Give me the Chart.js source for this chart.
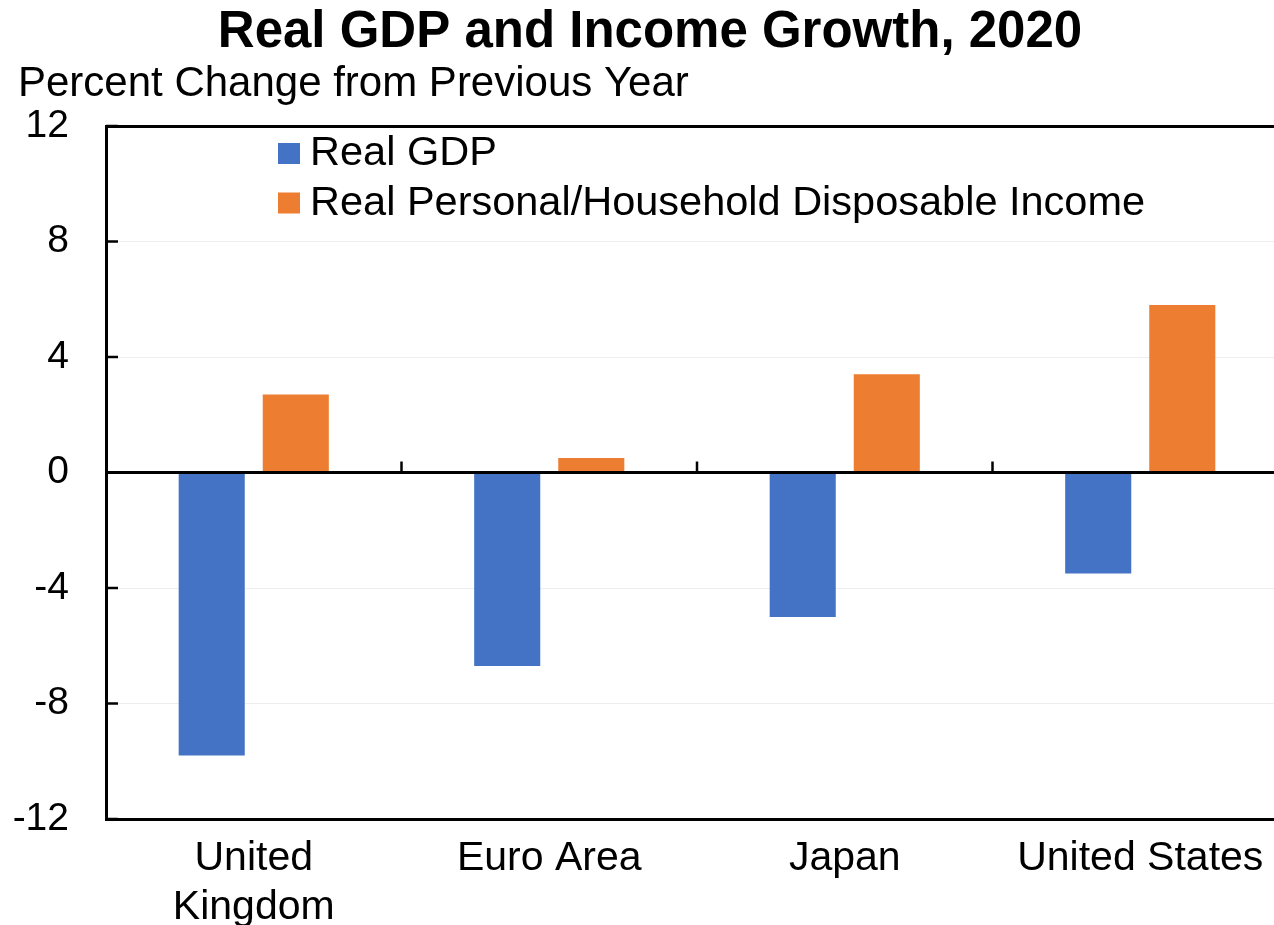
<!DOCTYPE html>
<html>
<head>
<meta charset="utf-8">
<script src="https://cdn.jsdelivr.net/npm/chart.js@4.4.0/dist/chart.umd.min.js"></script>
<style>
  html, body { margin: 0; padding: 0; background: #fff; overflow: hidden; }
  #wrap { width: 1288px; height: 925px; }
</style>
</head>
<body>
<div id="wrap"><canvas id="gdpChart"></canvas></div>
<script>
const countries = [['United', 'Kingdom'], 'Euro Area', 'Japan', 'United States'];
const realGdp = [-9.8, -6.7, -5.0, -3.5];
const realIncome = [2.7, 0.5, 3.4, 5.8];
const yTicks = [-12, -8, -4, 0, 4, 8, 12];

const chartTitle = 'Real GDP and Income Growth, 2020';
const unitLabel = 'Percent Change from Previous Year';

const FONT = '"Liberation Sans", Arial, sans-serif';
Chart.defaults.font.family = FONT;
Chart.defaults.color = '#000';

// headings, zero line, separators, inner ticks and the in-plot legend
const chartMarks = {
    id: 'chartMarks',
    afterDatasetsDraw(chart) {
        const { ctx, chartArea, scales: { x, y } } = chart;
        ctx.save();
        ctx.strokeStyle = '#000';

        const y0 = y.getPixelForValue(0);
        ctx.lineWidth = 3;
        ctx.beginPath();
        ctx.moveTo(chartArea.left, y0);
        ctx.lineTo(chartArea.right, y0);
        ctx.stroke();

        ctx.lineWidth = 2.5;
        for (let i = 1; i < countries.length; i++) {
            const bx = (x.getPixelForValue(i - 1) + x.getPixelForValue(i)) / 2;
            ctx.beginPath();
            ctx.moveTo(bx, y0);
            ctx.lineTo(bx, y0 - 11);
            ctx.stroke();
        }

        yTicks.forEach(v => {
            const py = y.getPixelForValue(v);
            ctx.beginPath();
            ctx.moveTo(chartArea.left, py);
            ctx.lineTo(chartArea.left + 12, py);
            ctx.stroke();
        });

        ctx.font = '41.5px ' + FONT;
        ctx.textBaseline = 'alphabetic';
        chart.data.datasets.forEach((ds, i) => {
            const lx = chartArea.left + 172;
            const ly = chartArea.top + 17 + i * 49.5;
            ctx.fillStyle = ds.backgroundColor;
            ctx.fillRect(lx, ly, 22, 21);
            ctx.fillStyle = '#000';
            ctx.fillText(ds.label, lx + 32, ly + 22);
        });

        ctx.fillStyle = '#000';
        ctx.font = 'bold 51px ' + FONT;
        ctx.textAlign = 'center';
        ctx.fillText(chartTitle, 650, 47);
        ctx.font = '42px ' + FONT;
        ctx.textAlign = 'left';
        ctx.fillText(unitLabel, 18, 96);
        ctx.restore();
    }
};

new Chart(document.getElementById('gdpChart').getContext('2d'), {
    type: 'bar',
    data: {
        labels: countries,
        datasets: [{
            label: 'Real GDP',
            data: realGdp,
            backgroundColor: '#4472C4'
        }, {
            label: 'Real Personal/Household Disposable Income',
            data: realIncome,
            backgroundColor: '#ED7D31'
        }]
    },
    options: {
        responsive: true,
        maintainAspectRatio: false,
        animation: false,
        categoryPercentage: 0.569,
        barPercentage: 0.786,
        layout: { padding: { left: 0, right: 0, top: 126, bottom: 0 } },
        plugins: {
            legend: { display: false },
            tooltip: { enabled: false }
        },
        scales: {
            x: {
                offset: true,
                afterFit: (scale) => { scale.height = 106; },
                grid: { color: 'rgba(0,0,0,0)', drawTicks: false },
                border: { display: true, color: '#000', width: 3 },
                ticks: { font: { size: 41, lineHeight: 1.2 }, padding: 15, maxRotation: 0 }
            },
            y: {
                min: -12,
                max: 12,
                afterFit: (scale) => { scale.width = 106; },
                afterBuildTicks: (scale) => { scale.ticks = yTicks.map(v => ({ value: v })); },
                grid: {
                    drawTicks: false,
                    color: (c) => {
                        const v = c.tick && c.tick.value;
                        if (v === 12 || v === -12) return '#000';
                        if (v === 0) return 'rgba(0,0,0,0)';
                        return '#eeeeee';
                    },
                    lineWidth: (c) => {
                        const v = c.tick && c.tick.value;
                        return (v === 12 || v === -12) ? 3 : 1;
                    }
                },
                border: { display: true, color: '#000', width: 3 },
                ticks: { font: { size: 39 }, padding: 37 }
            }
        }
    },
    plugins: [chartMarks]
});
</script>
</body>
</html>
